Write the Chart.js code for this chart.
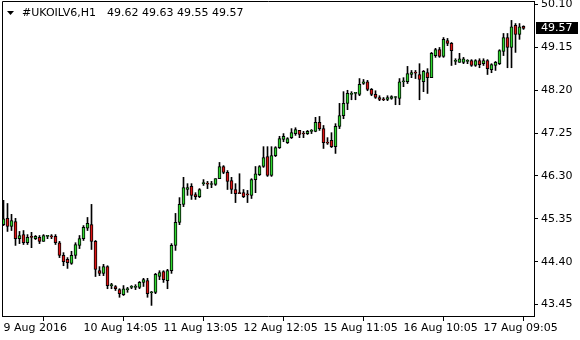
<!DOCTYPE html>
<html><head><meta charset="utf-8">
<script src="https://cdn.jsdelivr.net/npm/chart.js@4/dist/chart.umd.min.js"></script>
<style>html,body{margin:0;padding:0;background:#fff}#wrap{width:580px;height:340px;position:relative}</style>
</head><body><div id="wrap"><canvas id="c" width="580" height="340"></canvas></div>
<script>
const symbol = '#UKOILV6,H1';
const opens = [45.22,45.36,45.18,45.29,44.91,45.00,44.82,44.96,44.91,44.94,44.85,44.96,44.96,44.96,44.82,44.54,44.45,44.36,44.54,44.76,
44.91,45.14,45.22,44.85,44.20,44.14,44.29,43.87,43.85,43.78,43.67,43.78,43.83,43.83,43.83,43.94,43.98,43.71,43.72,44.07,
44.18,43.98,44.20,44.76,45.27,45.67,46.00,46.07,45.89,45.84,46.13,46.13,46.11,46.11,46.24,46.51,46.38,46.20,46.00,45.93,
45.93,45.89,45.87,46.22,46.33,46.51,46.73,46.31,46.75,46.93,47.11,47.04,47.15,47.24,47.31,47.24,47.24,47.29,47.29,47.49,
47.35,47.04,47.09,46.95,47.40,47.64,47.91,48.11,48.13,48.11,48.35,48.39,48.22,48.11,48.04,48.00,48.00,48.02,48.04,48.02,
48.39,48.39,48.55,48.59,48.55,48.39,48.59,48.48,48.97,49.10,48.95,49.30,49.24,48.84,48.82,48.82,48.84,48.86,48.75,48.86,
48.79,48.86,48.66,48.75,48.79,49.06,49.37,49.15,49.64,49.44,49.62];
const highs = [45.76,45.69,45.45,45.36,45.07,45.09,45.00,45.05,44.98,44.98,45.00,44.98,45.00,45.00,44.85,44.60,44.49,44.63,44.82,44.98,
45.20,45.38,45.67,44.87,44.29,44.34,44.31,43.92,43.87,43.80,43.87,43.83,43.87,43.89,43.96,44.03,44.03,43.74,44.14,44.20,
44.20,44.23,44.80,45.47,45.82,46.27,46.13,46.13,45.93,46.02,46.22,46.18,46.18,46.24,46.60,46.53,46.42,46.27,46.13,46.35,
46.00,45.98,46.24,46.51,46.53,46.95,46.95,46.95,46.95,47.18,47.24,47.15,47.35,47.37,47.31,47.29,47.31,47.33,47.60,47.62,
47.42,47.15,47.26,47.46,47.91,48.17,48.20,48.17,48.15,48.46,48.44,48.42,48.24,48.19,48.08,48.04,48.08,48.08,48.06,48.46,
48.48,48.73,48.64,48.64,48.79,48.64,48.68,49.04,49.13,49.15,49.37,49.35,49.26,48.90,49.02,48.93,48.88,48.88,48.88,48.90,
48.90,48.88,48.79,48.84,49.10,49.46,49.46,49.75,49.68,49.68,49.63];
const lows = [45.20,45.07,45.09,44.76,44.80,44.78,44.78,44.71,44.89,44.80,44.85,44.91,44.91,44.78,44.49,44.31,44.25,44.34,44.47,44.69,
44.87,45.09,44.67,44.07,44.09,44.09,43.80,43.80,43.76,43.61,43.65,43.72,43.80,43.78,43.80,43.85,43.61,43.43,43.69,44.00,
43.94,43.80,44.14,44.65,45.22,45.62,45.87,45.78,45.78,45.82,46.09,46.02,46.04,46.09,46.24,46.35,46.00,45.91,45.71,45.91,
45.82,45.71,45.80,45.93,46.31,46.49,46.29,46.29,46.73,46.91,47.06,47.02,47.13,47.20,47.15,47.15,47.22,47.24,47.28,47.31,
46.91,47.00,46.93,46.80,47.35,47.57,47.77,47.99,47.99,48.08,48.33,48.19,48.08,48.02,47.97,47.97,47.97,48.00,47.88,47.88,
48.28,48.35,48.48,48.46,47.99,48.17,48.13,48.48,48.93,48.93,48.93,49.19,48.75,48.77,48.82,48.79,48.79,48.73,48.73,48.70,
48.75,48.55,48.59,48.64,48.77,48.97,48.70,48.70,49.04,49.33,49.55];
const closes = [45.35,45.18,45.31,44.91,44.98,44.82,44.94,44.94,44.96,44.85,44.98,44.96,44.95,44.82,44.54,44.40,44.38,44.54,44.78,44.91,
45.16,45.25,44.85,44.23,44.14,44.29,43.87,43.87,43.80,43.69,43.80,43.80,43.85,43.84,43.94,44.00,43.69,43.72,44.12,44.16,
44.00,44.20,44.76,45.27,45.67,46.04,46.04,45.87,45.84,46.00,46.13,46.12,46.11,46.24,46.51,46.38,46.18,46.00,45.91,45.91,
45.84,45.88,46.22,46.35,46.51,46.71,46.31,46.75,46.93,47.13,47.18,47.13,47.26,47.33,47.22,47.23,47.29,47.30,47.49,47.35,
47.04,47.03,46.95,47.40,47.64,47.91,48.13,48.13,48.13,48.33,48.39,48.22,48.11,48.04,48.00,47.99,48.04,48.06,48.05,48.39,
48.41,48.57,48.59,48.58,48.44,48.62,48.48,49.02,49.10,48.95,49.33,49.24,49.08,48.84,48.90,48.90,48.85,48.75,48.86,48.77,
48.86,48.68,48.77,48.82,49.08,49.37,49.15,49.61,49.44,49.61,49.57];
const xTickIndex = [0,20,40,60,80,100,120];
const xTickLabels = ['9 Aug 2016','10 Aug 14:05','11 Aug 13:05','12 Aug 12:05','15 Aug 11:05','16 Aug 10:05','17 Aug 09:05'];
const yTicks = [50.10,49.15,48.20,47.25,46.30,45.35,44.40,43.45];

Chart.defaults.font.family = '"DejaVu Sans", Verdana, sans-serif';
Chart.defaults.font.size = 11;
Chart.defaults.color = '#000';

const n = closes.length;
const idx = closes.map((_, i) => i);
const wickData = idx.map(i => ({x: i, y: [lows[i], highs[i]]}));
const bodyData = idx.map(i => ({x: i, y: [Math.min(opens[i], closes[i]), Math.max(opens[i], closes[i])]}));
const bodyColors = idx.map(i => closes[i] >= opens[i] ? '#2fd62f' : '#dc1414');

const framePlugin = {
  id: 'frame',
  afterDraw(chart) {
    const {ctx, chartArea: a} = chart;
    ctx.save();
    ctx.strokeStyle = '#000';
    ctx.lineWidth = 1;
    ctx.beginPath();
    ctx.moveTo(Math.round(a.left) + 0.5, a.bottom);
    ctx.lineTo(Math.round(a.left) + 0.5, Math.round(a.top) + 0.5);
    ctx.lineTo(a.right, Math.round(a.top) + 0.5);
    ctx.stroke();
    // header
    ctx.fillStyle = '#000';
    ctx.beginPath();
    ctx.moveTo(7, 11); ctx.lineTo(14, 11); ctx.lineTo(10.5, 15); ctx.closePath();
    ctx.fill();
    ctx.font = '11px "DejaVu Sans"';
    ctx.textBaseline = 'middle';
    ctx.textAlign = 'left';
    ctx.fillText(symbol, 22, 13);
    const ohlc = [opens[n-1], highs[n-1], lows[n-1], closes[n-1]].map(v => v.toFixed(2)).join(' ');
    ctx.fillText(ohlc, 107, 13);
    // last price box
    const y = chart.scales.y.getPixelForValue(closes[n-1]);
    const yt = Math.round(y) - 7;
    ctx.fillStyle = '#000';
    ctx.fillRect(536, yt, 42, 12);
    ctx.fillStyle = '#fff';
    ctx.fillText(closes[n-1].toFixed(2), 541, yt + 6.5);
    ctx.restore();
  }
};

new Chart(document.getElementById('c'), {
  type: 'bar',
  data: {datasets: [
    {label: 'wick', data: wickData, backgroundColor: '#000', borderWidth: 0, barThickness: 1, grouped: false, order: 2, minBarLength: 1},
    {label: 'body', data: bodyData, backgroundColor: bodyColors, borderColor: '#000', borderWidth: 1, borderSkipped: false, barThickness: 3, grouped: false, order: 1, minBarLength: 1}
  ]},
  options: {
    responsive: false, animation: false, events: [],
    layout: {padding: {left: 2, top: 1, right: 0, bottom: 0}},
    plugins: {legend: {display: false}, tooltip: {enabled: false}, title: {display: false}},
    scales: {
      x: {
        type: 'linear', min: -0.375, max: 132.625, offset: false, position: 'bottom',
        grid: {display: true, drawOnChartArea: false, drawTicks: true, tickLength: 5, color: '#000', tickColor: '#000'},
        border: {display: true, color: '#000', width: 1},
        afterBuildTicks: s => { s.ticks = xTickIndex.map(v => ({value: v})); },
        afterFit: s => { s.height = 24; s.paddingLeft = 0; s.paddingRight = 0; },
        ticks: {autoSkip: false, maxRotation: 0, minRotation: 0, align: 'start', padding: 1, color: '#000',
          callback: v => { const k = xTickIndex.indexOf(v); return k >= 0 ? xTickLabels[k] : ''; }}
      },
      y: {
        type: 'linear', position: 'right', min: 43.195, max: 50.18,
        grid: {display: true, drawOnChartArea: false, drawTicks: true, tickLength: 4, color: '#000', tickColor: '#000'},
        border: {display: true, color: '#000', width: 1},
        afterBuildTicks: s => { s.ticks = yTicks.map(v => ({value: v})); },
        afterFit: s => { s.width = 46; s.paddingTop = 0; s.paddingBottom = 0; },
        ticks: {padding: 3, color: '#000', callback: v => Number(v).toFixed(2)}
      }
    }
  },
  plugins: [framePlugin]
});
</script>
</body></html>
